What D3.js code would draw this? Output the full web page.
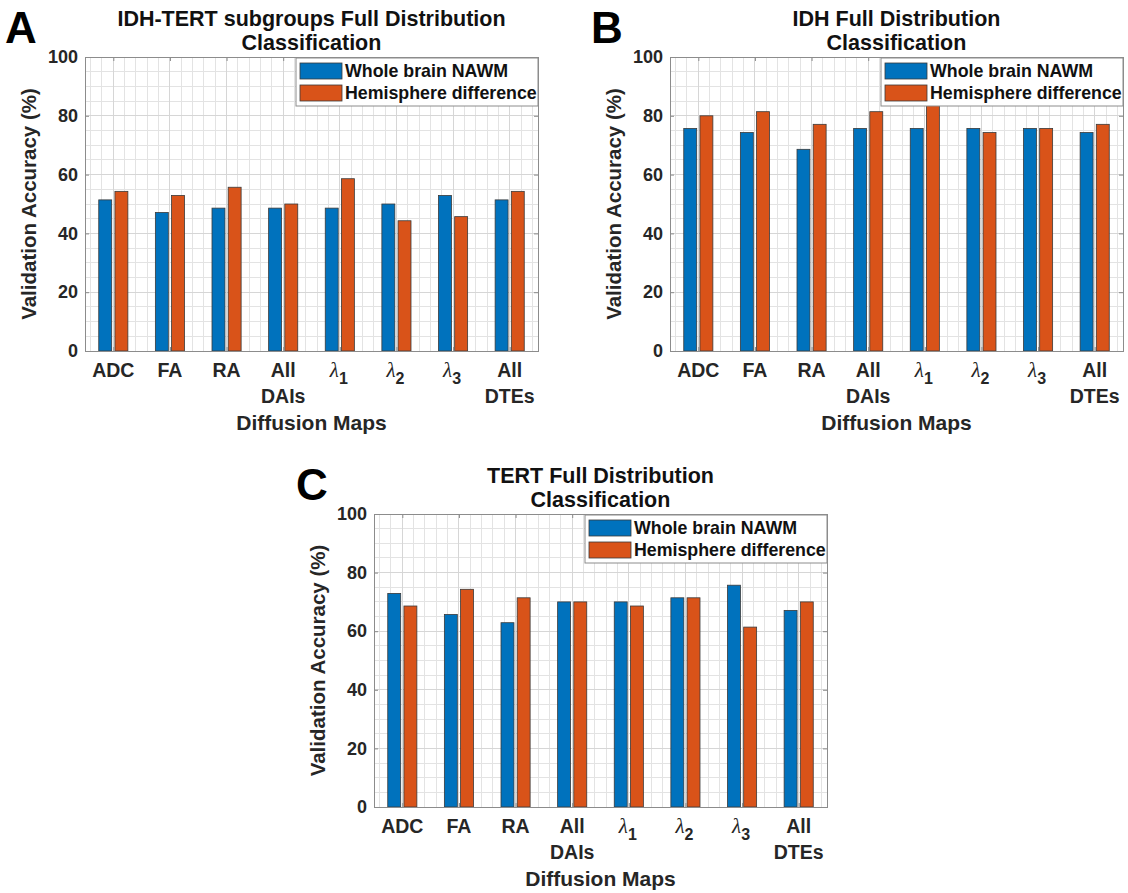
<!DOCTYPE html>
<html>
<head>
<meta charset="utf-8">
<script src="https://cdn.jsdelivr.net/npm/d3@7"></script>
<style>
  html, body { margin: 0; padding: 0; background: #fff; }
  svg text { font-family: "Liberation Sans", Arial, sans-serif; }
</style>
</head>
<body>
<svg id="chart" width="1128" height="893"></svg>
<script>
// ---- data ----
const categories = ["ADC", "FA", "RA", "All\nDAIs", "λ_1", "λ_2", "λ_3", "All\nDTEs"];
const seriesNames = ["Whole brain NAWM", "Hemisphere difference"];
const yTicks = [0, 20, 40, 60, 80, 100];

const idhTertWhole = [51.4, 47.1, 48.6, 48.6, 48.6, 50.0, 52.9, 51.4];
const idhTertHemi  = [54.3, 52.9, 55.7, 50.0, 58.6, 44.3, 45.7, 54.3];
const idhWhole     = [75.7, 74.3, 68.6, 75.7, 75.7, 75.7, 75.7, 74.3];
const idhHemi      = [80.0, 81.4, 77.1, 81.4, 84.3, 74.3, 75.7, 77.1];
const tertWhole    = [72.9, 65.7, 62.9, 70.0, 70.0, 71.4, 75.7, 67.1];
const tertHemi     = [68.6, 74.3, 71.4, 70.0, 68.6, 71.4, 61.4, 70.0];

const titlesA = ["IDH-TERT subgroups Full Distribution", "Classification"];
const titlesB = ["IDH Full Distribution", "Classification"];
const titlesC = ["TERT Full Distribution", "Classification"];

// ---- layout ----
const colors = ["#0072BD", "#D95319"];
const panels = [
  { letter: "A", titles: titlesA, s1: idhTertWhole, s2: idhTertHemi, left: 85,  right: 538, top: 57,  bottom: 351, lx: 7 },
  { letter: "B", titles: titlesB, s1: idhWhole,     s2: idhHemi,     left: 670, right: 1123, top: 57, bottom: 351, lx: 593 },
  { letter: "C", titles: titlesC, s1: tertWhole,    s2: tertHemi,    left: 374, right: 827, top: 514, bottom: 807, lx: 298 }
];

const svg = d3.select("#chart");
const textCol = "#262626";

panels.forEach(p => {
  const g = svg.append("g");
  const x = d3.scaleLinear().domain([0.5, categories.length + 0.5]).range([p.left, p.right]);
  const y = d3.scaleLinear().domain([0, 100]).range([p.bottom, p.top]);

  g.append("rect").attr("x", p.left).attr("y", p.top)
    .attr("width", p.right - p.left).attr("height", p.bottom - p.top).attr("fill", "#fff");

  // minor grid
  const xMinor = d3.range(3, categories.length * 5 + 3).map(k => k * 0.2).filter(v => v > 0.51 && v < categories.length + 0.49 && Math.abs(v - Math.round(v)) > 0.01);
  const yMinor = d3.range(0, 101, 5).filter(v => v % 20 !== 0);
  g.selectAll(".xminor").data(xMinor).enter().append("line")
    .attr("x1", d => x(d)).attr("x2", d => x(d)).attr("y1", p.top).attr("y2", p.bottom)
    .attr("stroke", "#e3e3e3").attr("stroke-width", 1).attr("shape-rendering", "crispEdges");
  g.selectAll(".yminor").data(yMinor).enter().append("line")
    .attr("x1", p.left).attr("x2", p.right).attr("y1", d => y(d)).attr("y2", d => y(d))
    .attr("stroke", "#e3e3e3").attr("stroke-width", 1).attr("shape-rendering", "crispEdges");
  // major grid
  g.selectAll(".xmajor").data(d3.range(1, categories.length + 1)).enter().append("line")
    .attr("x1", d => x(d)).attr("x2", d => x(d)).attr("y1", p.top).attr("y2", p.bottom)
    .attr("stroke", "#d6d6d6").attr("stroke-width", 1).attr("shape-rendering", "crispEdges");
  g.selectAll(".ymajor").data(yTicks).enter().append("line")
    .attr("x1", p.left).attr("x2", p.right).attr("y1", d => y(d)).attr("y2", d => y(d))
    .attr("stroke", "#d6d6d6").attr("stroke-width", 1).attr("shape-rendering", "crispEdges");

  // bars
  const barW = 0.2286, off = 0.1429;
  [p.s1, p.s2].forEach((vals, si) => {
    g.selectAll(".bar" + si).data(vals).enter().append("rect")
      .attr("x", (d, i) => x(i + 1 + (si === 0 ? -off : off) - barW / 2))
      .attr("width", x(barW) - x(0))
      .attr("y", d => y(d))
      .attr("height", d => y(0) - y(d))
      .attr("fill", colors[si])
      .attr("stroke", "#3a3a3a").attr("stroke-width", 0.8);
  });

  // axes box
  g.append("rect").attr("x", p.left).attr("y", p.top)
    .attr("width", p.right - p.left).attr("height", p.bottom - p.top)
    .attr("fill", "none").attr("stroke", "#8c8c8c").attr("stroke-width", 1).attr("shape-rendering", "crispEdges");

  // ticks (inward)
  const tl = 4;
  const axL = g.append("g").attr("transform", `translate(${p.left},0)`)
    .call(d3.axisLeft(y).tickValues(yTicks).tickSize(-tl).tickPadding(7).tickFormat(d3.format("d")));
  const axR = g.append("g").attr("transform", `translate(${p.right},0)`)
    .call(d3.axisRight(y).tickValues(yTicks).tickSize(-tl).tickFormat(""));
  const axT = g.append("g").attr("transform", `translate(0,${p.top})`)
    .call(d3.axisTop(x).tickValues(d3.range(1, categories.length + 1)).tickSize(-tl).tickFormat(""));
  const axB = g.append("g").attr("transform", `translate(0,${p.bottom})`)
    .call(d3.axisBottom(x).tickValues(d3.range(1, categories.length + 1)).tickSize(-tl).tickFormat(""));
  [axL, axR, axT, axB].forEach(a => {
    a.select(".domain").remove();
    a.selectAll(".tick line").attr("stroke", "#8c8c8c");
  });
  axL.selectAll(".tick text")
    .attr("font-family", "Liberation Sans, Arial, sans-serif")
    .attr("font-size", 18).attr("font-weight", "bold").attr("fill", textCol);

  // x tick labels
  categories.forEach((c, i) => {
    const cx = x(i + 1);
    if (c.startsWith("λ_")) {
      const t = g.append("text").attr("x", cx - 1).attr("y", p.bottom + 26).attr("text-anchor", "middle").attr("fill", textCol);
      t.append("tspan").text("λ").attr("font-family", "Liberation Serif, serif").attr("font-style", "italic").attr("font-size", 21);
      t.append("tspan").text(c.slice(2)).attr("dy", 7).attr("font-size", 16).attr("font-weight", "bold");
    } else {
      c.split("\n").forEach((line, li) => {
        g.append("text").attr("x", cx).attr("y", p.bottom + 26 + li * 26)
          .attr("text-anchor", "middle").attr("font-size", 19.5).attr("font-weight", "bold")
          .attr("fill", textCol).text(line);
      });
    }
  });

  const midX = (p.left + p.right) / 2, midY = (p.top + p.bottom) / 2;
  g.append("text").attr("x", midX).attr("y", p.bottom + 79).attr("text-anchor", "middle")
    .attr("font-size", 21).attr("font-weight", "bold").attr("fill", textCol).text("Diffusion Maps");
  g.append("text").attr("transform", `translate(${p.left - 49},${midY}) rotate(-90)`)
    .attr("text-anchor", "middle").attr("font-size", 20.5).attr("font-weight", "bold")
    .attr("fill", textCol).text("Validation Accuracy (%)");
  p.titles.forEach((t, ti) => {
    g.append("text").attr("x", midX).attr("y", p.top - 31 + ti * 24).attr("text-anchor", "middle")
      .attr("font-size", 21.5).attr("font-weight", "bold").attr("fill", "#111").text(t);
  });
  g.append("text").attr("x", p.lx - 2).attr("y", p.top - 14).attr("font-size", 44)
    .attr("font-weight", "bold").attr("fill", "#000").text(p.letter);

  // legend
  const lgW = 242, lgH = 48;
  const lg = g.append("g").attr("transform", `translate(${p.right - lgW},${p.top + 1})`);
  lg.append("rect").attr("width", lgW).attr("height", lgH).attr("fill", "#fff")
    .attr("stroke", "#8c8c8c").attr("stroke-width", 1);
  seriesNames.forEach((n, si) => {
    lg.append("rect").attr("x", 4).attr("y", 5 + si * 22).attr("width", 42).attr("height", 16)
      .attr("fill", colors[si]).attr("stroke", "#3a3a3a").attr("stroke-width", 0.8);
    lg.append("text").attr("x", 49).attr("y", 19 + si * 22).attr("font-size", 17.8)
      .attr("font-weight", "bold").attr("fill", "#111").text(n);
  });
});
</script>
</body>
</html>
